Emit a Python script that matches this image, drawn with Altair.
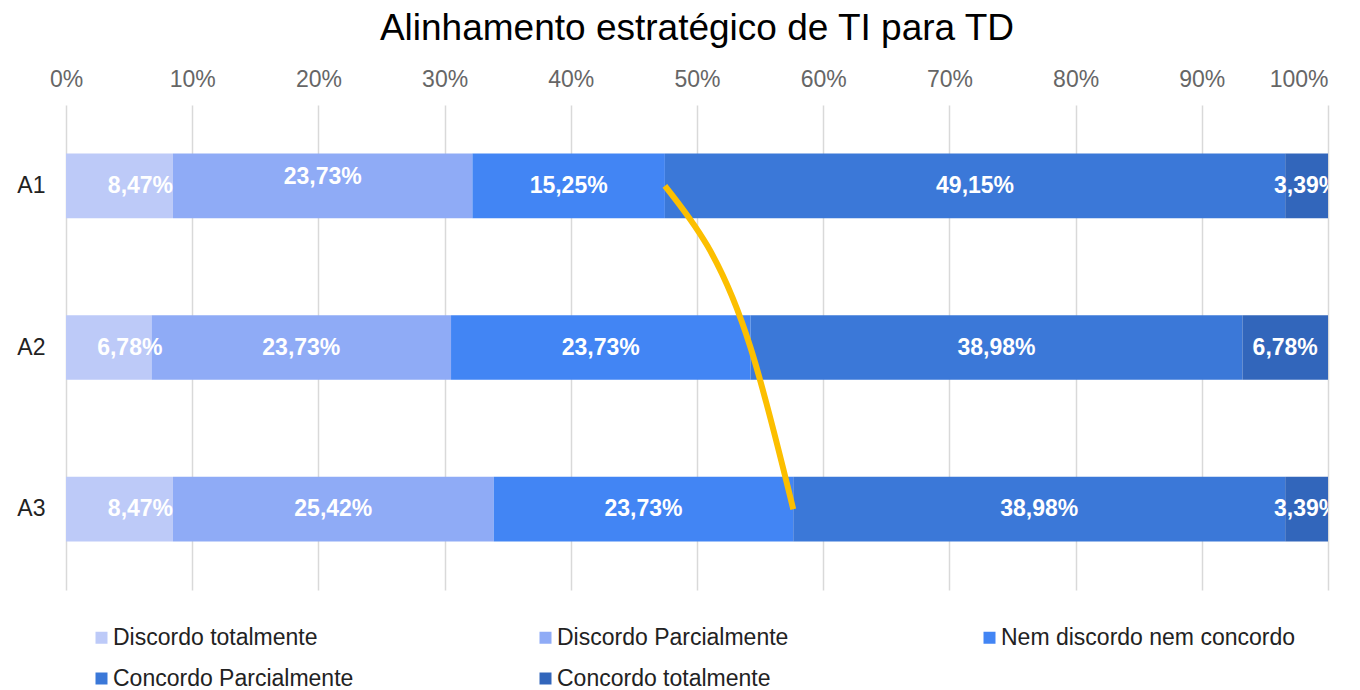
import altair as alt
import pandas as pd

# ---- data ----
categorias = ["A1", "A2", "A3"]
respostas = [
    "Discordo totalmente",
    "Discordo Parcialmente",
    "Nem discordo nem concordo",
    "Concordo Parcialmente",
    "Concordo totalmente",
]
discordo_totalmente = [8.47, 6.78, 8.47]
discordo_parcialmente = [23.73, 23.73, 25.42]
nem_discordo_nem_concordo = [15.25, 23.73, 23.73]
concordo_parcialmente = [49.15, 38.98, 38.98]
concordo_totalmente = [3.39, 6.78, 3.39]
cores = ["#bdcaf8", "#8fabf6", "#4285f4", "#3b78d8", "#3266bb"]
ticks_x = [0, 0.1, 0.2, 0.3, 0.4, 0.5, 0.6, 0.7, 0.8, 0.9, 1.0]
titulo = "Alinhamento estratégico de TI para TD"

series = [
    discordo_totalmente,
    discordo_parcialmente,
    nem_discordo_nem_concordo,
    concordo_parcialmente,
    concordo_totalmente,
]
rows = []
for i, cat in enumerate(categorias):
    for j, resp in enumerate(respostas):
        v = series[j][i]
        rows.append(
            dict(cat=cat, resp=resp, ordem=j, valor=v,
                 rotulo=f"{v:.2f}".replace(".", ",") + "%")
        )
df = pd.DataFrame(rows)

FONT = "Liberation Sans"

base = (
    alt.Chart(df)
    .transform_stack(
        stack="valor",
        groupby=["cat"],
        as_=["x0", "x1"],
        sort=[alt.SortField("ordem", order="ascending")],
        offset="normalize",
    )
    .transform_calculate(mid="(datum.x0 + datum.x1) / 2")
)

x_scale = alt.Scale(domain=[0, 1], nice=False, zero=True)
y_scale = alt.Scale(domain=categorias, paddingInner=0.6, paddingOuter=0.3)

bars = base.mark_bar().encode(
    x=alt.X(
        "x0:Q",
        scale=x_scale,
        axis=alt.Axis(
            orient="top",
            format=".0%",
            values=ticks_x,
            title=None,
            labelFontSize=23,
            labelColor="#666666",
            labelPadding=14,
            labelAlign=alt.ExprRef(expr="datum.value == 1 ? 'right' : 'center'"),
            ticks=False,
            domain=False,
            grid=True,
            gridColor="#d9d9d9",
            gridWidth=1.5,
        ),
    ),
    x2="x1:Q",
    y=alt.Y(
        "cat:N",
        scale=y_scale,
        axis=alt.Axis(
            title=None,
            labelFontSize=23,
            labelColor="#222222",
            labelPadding=21,
            ticks=False,
            domain=False,
        ),
    ),
    color=alt.Color(
        "resp:N",
        scale=alt.Scale(domain=respostas, range=cores),
        legend=alt.Legend(
            title=None,
            orient="none",
            legendX=24,
            legendY=521,
            direction="horizontal",
            columns=3,
            gridAlign="all",
            columnPadding=126,
            rowPadding=17,
            symbolType="square",
            symbolSize=144,
            symbolStrokeWidth=0,
            labelFontSize=23,
            labelColor="#222222",
            labelOffset=0,
            labelLimit=400,
        ),
    ),
)

text_enc = dict(
    x=alt.X("mid:Q", scale=x_scale),
    y=alt.Y("cat:N", scale=y_scale),
    text="rotulo:N",
)
text_style = dict(color="white", fontWeight="bold", fontSize=23, clip=True, baseline="middle")

text_main = (
    base.transform_filter("datum.ordem > 0 && !(datum.cat == 'A1' && datum.ordem == 1)")
    .mark_text(**text_style)
    .encode(**text_enc)
)
text_first = (
    base.transform_filter("datum.ordem == 0")
    .mark_text(dx=21, **text_style)
    .encode(**text_enc)
)
text_a1 = (
    base.transform_filter("datum.cat == 'A1' && datum.ordem == 1")
    .mark_text(dy=-9, **text_style)
    .encode(**text_enc)
)

linha = (
    base.transform_filter("datum.ordem == 2")
    .mark_line(color="#fcbf00", strokeWidth=6, interpolate="monotone")
    .encode(x=alt.X("x1:Q", scale=x_scale), y=alt.Y("cat:N", scale=y_scale))
)

chart = (
    alt.layer(bars, text_first, text_a1, text_main, linha)
    .properties(
        width=1262,
        height=485,
        title=alt.TitleParams(
            titulo, fontSize=37, fontWeight="normal", color="#000000",
            anchor="middle", offset=20,
        ),
        padding={"left": 58, "top": 97, "right": 24, "bottom": 100},
        autosize=alt.AutoSizeParams(type="none"),
    )
    .configure(font=FONT)
    .configure_view(stroke=None)
)

chart.save("out.html", embed_options={"renderer": "svg", "actions": False})
